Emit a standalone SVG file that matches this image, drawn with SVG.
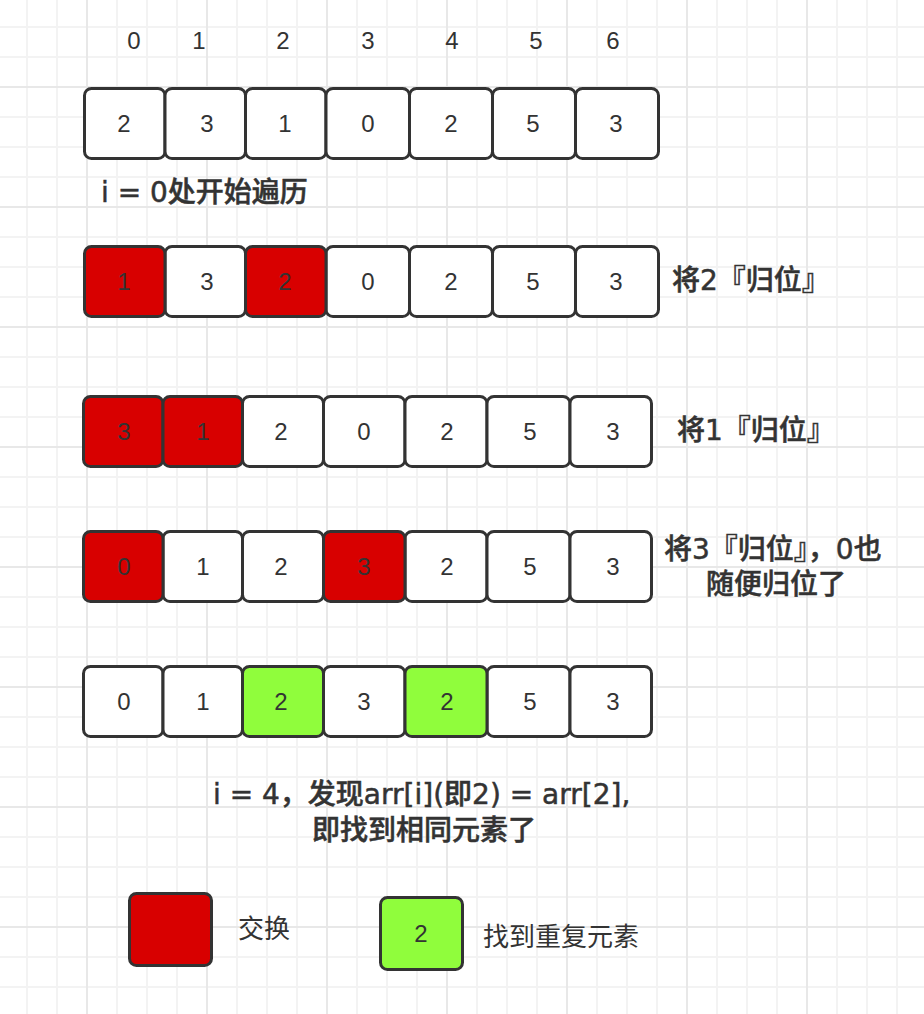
<svg xmlns="http://www.w3.org/2000/svg" width="924" height="1014" viewBox="0 0 924 1014">
<style>
.cell{stroke:#333;stroke-width:3;fill:#fff}
.red{fill:#d80000}
.green{fill:#90fd3c}
.num{font-family:"Liberation Sans",Arial,sans-serif;font-size:24px;fill:#333;text-anchor:middle}
.idx{font-family:"Liberation Sans",Arial,sans-serif;font-size:24px;fill:#333;text-anchor:middle}
.cn{font-family:"DejaVu Sans","Noto Sans CJK SC",sans-serif;font-size:28px;font-weight:500;fill:#333;stroke:#333;stroke-width:0.5}
.cnr{font-family:"Noto Sans CJK SC",sans-serif;font-size:26px;font-weight:400;fill:#333}
</style>
<defs>
<pattern id="minor" x="26" y="26" width="30" height="30" patternUnits="userSpaceOnUse">
<rect x="0" y="0" width="2" height="30" fill="#f3f3f3"/>
<rect x="0" y="0" width="30" height="2" fill="#f3f3f3"/>
</pattern>
<pattern id="major" x="86" y="86" width="120" height="120" patternUnits="userSpaceOnUse">
<rect x="0" y="0" width="2" height="120" fill="#e8e8e8"/>
<rect x="0" y="0" width="120" height="2" fill="#e8e8e8"/>
</pattern>
</defs>
<rect width="924" height="1014" fill="#fff"/>
<rect width="924" height="1014" fill="url(#minor)"/>
<rect width="924" height="1014" fill="url(#major)"/>

<g id="indices">
<text class="idx" x="134" y="48.5">0</text>
<text class="idx" x="199" y="48.5">1</text>
<text class="idx" x="283" y="48.5">2</text>
<text class="idx" x="368" y="48.5">3</text>
<text class="idx" x="452" y="48.5">4</text>
<text class="idx" x="536" y="48.5">5</text>
<text class="idx" x="613" y="48.5">6</text>
</g>

<g id="row1">
<g id="r1c0"><rect class="cell" x="84.5" y="88.5" width="80.5" height="70" rx="7"/><text class="num" x="124" y="131.5">2</text></g>
<g id="r1c1"><rect class="cell" x="165" y="88.5" width="80.5" height="70" rx="7"/><text class="num" x="207" y="131.5">3</text></g>
<g id="r1c2"><rect class="cell" x="245.5" y="88.5" width="80.5" height="70" rx="7"/><text class="num" x="285" y="131.5">1</text></g>
<g id="r1c3"><rect class="cell" x="326" y="88.5" width="83.5" height="70" rx="7"/><text class="num" x="368" y="131.5">0</text></g>
<g id="r1c4"><rect class="cell" x="409.5" y="88.5" width="83" height="70" rx="7"/><text class="num" x="451" y="131.5">2</text></g>
<g id="r1c5"><rect class="cell" x="492.5" y="88.5" width="83" height="70" rx="7"/><text class="num" x="533" y="131.5">5</text></g>
<g id="r1c6"><rect class="cell" x="575.5" y="88.5" width="83" height="70" rx="7"/><text class="num" x="616" y="131.5">3</text></g>
</g>
<text id="start-label" class="cn" x="101" y="202">i = 0处开始遍历</text>

<g id="row2">
<g id="r2c1"><rect class="cell" x="165" y="246.5" width="80.5" height="70" rx="7"/><text class="num" x="207" y="290">3</text></g>
<g id="r2c3"><rect class="cell" x="326" y="246.5" width="83.5" height="70" rx="7"/><text class="num" x="368" y="290">0</text></g>
<g id="r2c4"><rect class="cell" x="409.5" y="246.5" width="83" height="70" rx="7"/><text class="num" x="451" y="290">2</text></g>
<g id="r2c5"><rect class="cell" x="492.5" y="246.5" width="83" height="70" rx="7"/><text class="num" x="533" y="290">5</text></g>
<g id="r2c6"><rect class="cell" x="575.5" y="246.5" width="83" height="70" rx="7"/><text class="num" x="616" y="290">3</text></g>
<g id="r2c0"><rect class="cell red" x="84.5" y="246.5" width="80.5" height="70" rx="7"/><text class="num" x="124" y="290">1</text></g>
<g id="r2c2"><rect class="cell red" x="245.5" y="246.5" width="80.5" height="70" rx="7"/><text class="num" x="285" y="290">2</text></g>
</g>
<text id="label2" class="cn" x="672" y="290">将2『归位』</text>

<g id="row3">
<g id="r3c2"><rect class="cell" x="242.5" y="396.5" width="81" height="70" rx="7"/><text class="num" x="281" y="440">2</text></g>
<g id="r3c3"><rect class="cell" x="323.5" y="396.5" width="81.5" height="70" rx="7"/><text class="num" x="364" y="440">0</text></g>
<g id="r3c4"><rect class="cell" x="405" y="396.5" width="82" height="70" rx="7"/><text class="num" x="447" y="440">2</text></g>
<g id="r3c5"><rect class="cell" x="487" y="396.5" width="83" height="70" rx="7"/><text class="num" x="530" y="440">5</text></g>
<g id="r3c6"><rect class="cell" x="570" y="396.5" width="81.5" height="70" rx="7"/><text class="num" x="613" y="440">3</text></g>
<g id="r3c0"><rect class="cell red" x="83.5" y="396.5" width="79.5" height="70" rx="7"/><text class="num" x="124" y="440">3</text></g>
<g id="r3c1"><rect class="cell red" x="163" y="396.5" width="79.5" height="70" rx="7"/><text class="num" x="203" y="440">1</text></g>
</g>
<text id="label1" class="cn" x="677" y="440">将1『归位』</text>

<g id="row4">
<g id="r4c1"><rect class="cell" x="163" y="531.5" width="79.5" height="70" rx="7"/><text class="num" x="203" y="575">1</text></g>
<g id="r4c2"><rect class="cell" x="242.5" y="531.5" width="81" height="70" rx="7"/><text class="num" x="281" y="575">2</text></g>
<g id="r4c4"><rect class="cell" x="405" y="531.5" width="82" height="70" rx="7"/><text class="num" x="447" y="575">2</text></g>
<g id="r4c5"><rect class="cell" x="487" y="531.5" width="83" height="70" rx="7"/><text class="num" x="530" y="575">5</text></g>
<g id="r4c6"><rect class="cell" x="570" y="531.5" width="81.5" height="70" rx="7"/><text class="num" x="613" y="575">3</text></g>
<g id="r4c0"><rect class="cell red" x="83.5" y="531.5" width="79.5" height="70" rx="7"/><text class="num" x="124" y="575">0</text></g>
<g id="r4c3"><rect class="cell red" x="323.5" y="531.5" width="81.5" height="70" rx="7"/><text class="num" x="364" y="575">3</text></g>
</g>
<text id="label3" class="cn"><tspan x="664" y="559">将3『归位』，0也</tspan><tspan x="706" y="594">随便归位了</tspan></text>

<g id="row5">
<g id="r5c0"><rect class="cell" x="83.5" y="666.5" width="79.5" height="70" rx="7"/><text class="num" x="124" y="710">0</text></g>
<g id="r5c1"><rect class="cell" x="163" y="666.5" width="79.5" height="70" rx="7"/><text class="num" x="203" y="710">1</text></g>
<g id="r5c3"><rect class="cell" x="323.5" y="666.5" width="81.5" height="70" rx="7"/><text class="num" x="364" y="710">3</text></g>
<g id="r5c5"><rect class="cell" x="487" y="666.5" width="83" height="70" rx="7"/><text class="num" x="530" y="710">5</text></g>
<g id="r5c6"><rect class="cell" x="570" y="666.5" width="81.5" height="70" rx="7"/><text class="num" x="613" y="710">3</text></g>
<g id="r5c2"><rect class="cell green" x="242.5" y="666.5" width="81" height="70" rx="7"/><text class="num" x="281" y="710">2</text></g>
<g id="r5c4"><rect class="cell green" x="405" y="666.5" width="82" height="70" rx="7"/><text class="num" x="447" y="710">2</text></g>
</g>
<text id="found-label" class="cn"><tspan x="213" y="804">i = 4，发现arr[i](即2) = arr[2],</tspan><tspan x="312" y="840">即找到相同元素了</tspan></text>

<g id="legend-swap">
<rect class="cell red" x="129.5" y="893.5" width="82" height="72" rx="7"/>
<text class="cnr" x="238" y="938">交换</text>
</g>
<g id="legend-dup">
<rect class="cell green" x="380.5" y="897.5" width="82" height="72" rx="7"/>
<text class="num" x="421" y="941.5">2</text>
<text class="cnr" x="483" y="946">找到重复元素</text>
</g>
<g id="connectors"></g>
</svg>
